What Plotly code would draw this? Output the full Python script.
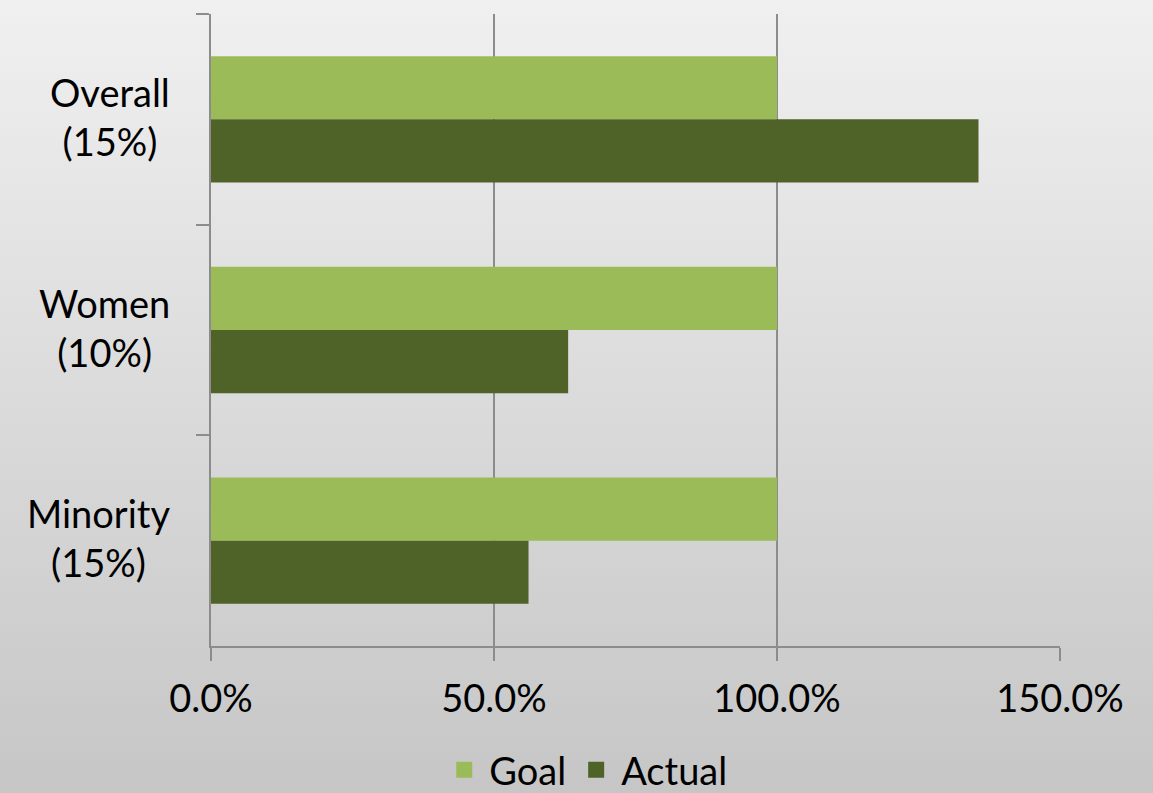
import base64
import plotly.graph_objects as go

# ---- data ----
categories = ["Overall (15%)", "Women (10%)", "Minority (15%)"]
label_lines = [["Overall", "(15%)"], ["Women", "(10%)"], ["Minority", "(15%)"]]
goal = [1.0, 1.0, 1.0]
actual = [1.356, 0.631, 0.561]
x_ticks = [0, 0.5, 1.0, 1.5]
series_names = ["Goal", "Actual"]

# ---- styling ----
W, H = 1153, 793
GOAL_C = "#9BBB59"
ACT_C = "#4F6228"
AXIS_C = "#8C8C8C"
FONT = "Lato"
FS = 38

x0, x1 = 211, 1060      # pixel extents of plot area
yt, yb = 14, 646

fig = go.Figure()
fig.add_trace(go.Bar(y=categories, x=goal, name=series_names[0], orientation="h",
                     marker=dict(color=GOAL_C, line=dict(width=0)), showlegend=False))
fig.add_trace(go.Bar(y=categories, x=actual, name=series_names[1], orientation="h",
                     marker=dict(color=ACT_C, line=dict(width=0)), showlegend=False))
# legend entries (larger square swatches)
for name, col in zip(series_names, [GOAL_C, ACT_C]):
    fig.add_trace(go.Scatter(x=[None], y=[None], mode="markers", name=name,
                             marker=dict(symbol="square", size=16, color=col),
                             hoverinfo="skip"))

# category labels (centered lines, right-aligned block)
for cat, lines in zip(categories, label_lines):
    fig.add_annotation(x=172 / W, xref="paper", y=cat, yref="y", yshift=3,
                       text="<br>".join(lines), showarrow=False,
                       xanchor="right", yanchor="middle", align="center",
                       font=dict(family=FONT, size=FS, color="#000000"))

svg = (f'<svg xmlns="http://www.w3.org/2000/svg" width="{W}" height="{H}" preserveAspectRatio="none">'
       '<defs><linearGradient id="g" x1="0" y1="0" x2="0" y2="1">'
       '<stop offset="0" stop-color="#F0F0F0"/><stop offset="1" stop-color="#C6C6C6"/>'
       '</linearGradient></defs>'
       f'<rect width="{W}" height="{H}" fill="url(#g)"/></svg>')
src = "data:image/svg+xml;base64," + base64.b64encode(svg.encode()).decode()

fig.update_layout(
    width=W, height=H,
    margin=dict(l=0, r=0, t=0, b=0, autoexpand=False),
    paper_bgcolor="#DDDDDD",
    plot_bgcolor="rgba(0,0,0,0)",
    barmode="group",
    bargap=0.4,
    bargroupgap=0,
    font=dict(family=FONT, size=FS, color="#000000"),
    images=[dict(source=src, xref="paper", yref="paper", x=0, y=1, sizex=1, sizey=1,
                 xanchor="left", yanchor="top", sizing="stretch", layer="below")],
    legend=dict(orientation="h", x=0.508, xanchor="center", y=1 - 770 / H, yanchor="middle",
                yref="container", font=dict(family=FONT, size=FS), bgcolor="rgba(0,0,0,0)",
                itemwidth=40, traceorder="normal"),
    xaxis=dict(domain=[x0 / W, x1 / W], range=[0, 1.5], tickvals=x_ticks,
               tickformat=".1%", showgrid=True, gridcolor=AXIS_C, gridwidth=2,
               zeroline=False, showline=True, linecolor=AXIS_C, linewidth=2,
               ticks="outside", ticklen=13, tickwidth=2, tickcolor=AXIS_C,
               ticklabelstandoff=5,
               tickfont=dict(family=FONT, size=FS), fixedrange=True, automargin=False),
    yaxis=dict(domain=[1 - yb / H, 1 - yt / H], autorange="reversed",
               showticklabels=False, showgrid=False, zeroline=False,
               showline=True, linecolor=AXIS_C, linewidth=2,
               ticks="outside", tickson="boundaries", ticklen=13, tickwidth=2,
               tickcolor=AXIS_C, fixedrange=True, automargin=False),
)

fig.write_html("out.html", config={"displayModeBar": False},
               post_script="document.body.style.margin='0';document.body.style.overflow='hidden';")
